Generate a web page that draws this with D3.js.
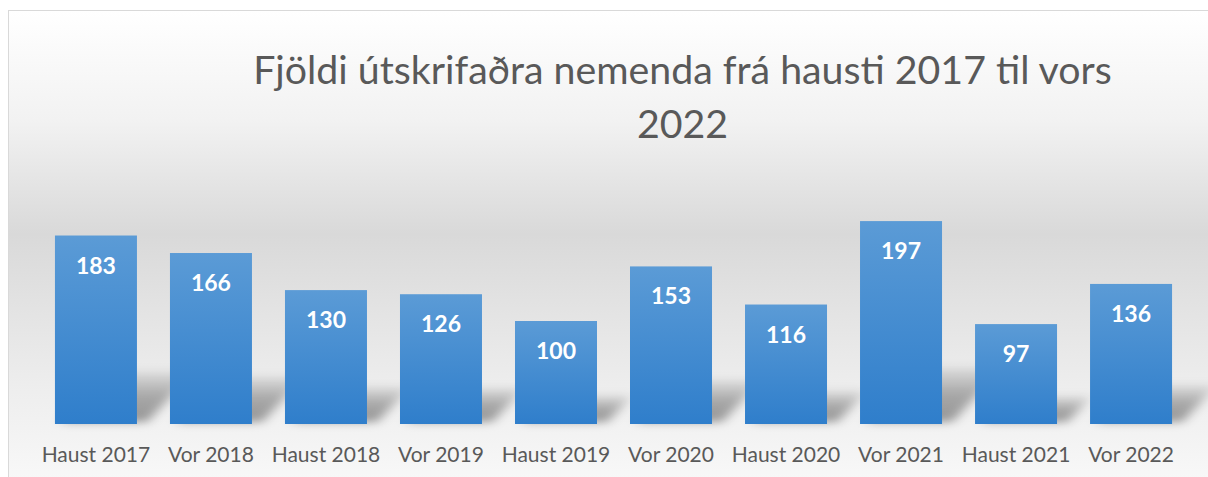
<!DOCTYPE html>
<html>
<head>
<meta charset="utf-8">
<script src="https://cdn.jsdelivr.net/npm/d3@7"></script>
<style>
  body { margin: 0; background: #fff; }
  svg { display: block; font-family: Lato, "Open Sans", sans-serif; }
</style>
</head>
<body>
<script>
// data
let categories = ["Haust 2017", "Vor 2018", "Haust 2018", "Vor 2019", "Haust 2019",
                  "Vor 2020", "Haust 2020", "Vor 2021", "Haust 2021", "Vor 2022"];
let values = [183, 166, 130, 126, 100, 153, 116, 197, 97, 136];
let titleLines = ["Fjöldi útskrifaðra nemenda frá hausti 2017 til vors", "2022"];

let width = 1208, height = 477;

let svg = d3.select("body").append("svg")
    .attr("width", width)
    .attr("height", height);

let defs = svg.append("defs");

    // chart area background: white -> grey -> white
let bg = defs.append("linearGradient")
    .attr("id", "bg").attr("x1", 0).attr("y1", 0).attr("x2", 0).attr("y2", 1);
bg.append("stop").attr("offset", "0%").attr("stop-color", "#ffffff");
bg.append("stop").attr("offset", "22%").attr("stop-color", "#f2f2f2");
bg.append("stop").attr("offset", "45%").attr("stop-color", "#d9d9d9");
bg.append("stop").attr("offset", "75%").attr("stop-color", "#ededed");
bg.append("stop").attr("offset", "100%").attr("stop-color", "#fbfbfb");

let barGrad = defs.append("linearGradient")
    .attr("id", "barGrad").attr("x1", 0).attr("y1", 0).attr("x2", 0).attr("y2", 1);
barGrad.append("stop").attr("offset", "0%").attr("stop-color", "#5b9bd6");
barGrad.append("stop").attr("offset", "100%").attr("stop-color", "#2f7ecb");

let shGrad = defs.append("linearGradient")
    .attr("id", "shGrad").attr("x1", 0).attr("y1", 0).attr("x2", 0).attr("y2", 1);
shGrad.append("stop").attr("offset", "0%").attr("stop-color", "#000").attr("stop-opacity", 0.06);
shGrad.append("stop").attr("offset", "50%").attr("stop-color", "#000").attr("stop-opacity", 0.3);
shGrad.append("stop").attr("offset", "100%").attr("stop-color", "#000").attr("stop-opacity", 0.38);

defs.append("filter").attr("id", "blur")
    .attr("x", "-30%").attr("y", "-40%").attr("width", "160%").attr("height", "180%")
  .append("feGaussianBlur").attr("stdDeviation", "6 4");

svg.append("rect")
    .attr("x", 8.5).attr("y", 10.5)
    .attr("width", width + 20).attr("height", height + 20)
    .attr("fill", "url(#bg)")
    .attr("stroke", "#d9d9d9");

    // scales
let x = d3.scaleBand().domain(categories).range([38.5, 1188.5]).paddingInner(0.287).paddingOuter(0.143);
let y = d3.scaleLinear().domain([0, 250]).range([424, 166.5]);

    // perspective shadows
let shadowRatio = 0.28, skew = 0.9;
svg.append("g").attr("filter", "url(#blur)")
  .selectAll("path")
  .data(values)
  .enter()
  .append("path")
    .attr("fill", "url(#shGrad)")
    .attr("d", function(d, i) {
        let x0 = x(categories[i]) + 6, x1 = x0 + x.bandwidth() + 4;
        let h = (y(0) - y(d)) * shadowRatio;
        return "M" + x0 + "," + (y(0) - 2) + "L" + x1 + "," + (y(0) - 2) +
               "L" + (x1 + h * skew) + "," + (y(0) - h) +
               "L" + (x0 + h * skew) + "," + (y(0) - h) + "Z";
    });

    // bars
svg.append("g")
  .selectAll("rect")
  .data(values)
  .enter()
  .append("rect")
    .attr("x", function(d, i) { return x(categories[i]); })
    .attr("y", function(d) { return y(d); })
    .attr("width", x.bandwidth())
    .attr("height", function(d) { return y(0) - y(d); })
    .attr("fill", "url(#barGrad)");

    // value labels
svg.append("g")
  .selectAll("text")
  .data(values)
  .enter()
  .append("text")
    .attr("x", function(d, i) { return x(categories[i]) + x.bandwidth() / 2; })
    .attr("y", function(d) { return y(d) + 38; })
    .attr("text-anchor", "middle")
    .style("font-size", "23px")
    .style("font-weight", "bold")
    .attr("fill", "#ffffff")
    .text(function(d) { return d; });

    // x axis, no line or ticks
let xAxis = d3.axisBottom(x).tickSize(0).tickPadding(0);
let gx = svg.append("g")
    .attr("transform", "translate(0,424)")
    .call(xAxis);
gx.select(".domain").remove();
gx.selectAll("text")
    .attr("y", 38)
    .attr("dy", 0)
    .style("font-family", "Lato, 'Open Sans', sans-serif")
    .style("font-size", "21px")
    .attr("fill", "#595959");

    // title
svg.append("g")
  .selectAll("text")
  .data(titleLines)
  .enter()
  .append("text")
    .attr("x", 682.5)
    .attr("y", function(d, i) { return 84 + i * 54; })
    .attr("text-anchor", "middle")
    .style("font-size", "39.3px")
    .attr("fill", "#595959")
    .text(function(d) { return d; });
</script>
</body>
</html>
